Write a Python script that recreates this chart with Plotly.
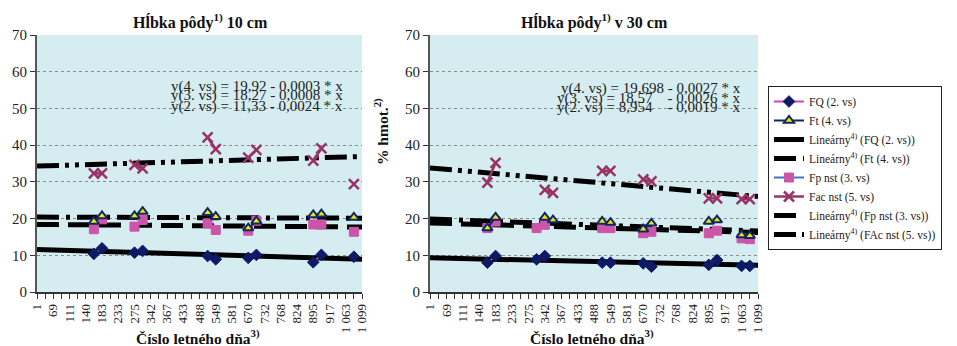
import plotly.graph_objects as go

# ---------------- data ----------------
tick_labels = ["1", "69", "111", "140", "183", "233", "275", "342", "367", "433", "488",
               "549", "581", "670", "732", "768", "824", "895", "917", "1 063", "1 099"]
n_categories = 41  # every second category is labelled

# left panel (10 cm)
left_idx = [7, 8, 12, 13, 21, 22, 26, 27, 34, 35, 39]
left_fq = [10.4, 11.9, 10.7, 11.2, 9.8, 8.9, 9.3, 10.1, 8.1, 10.1, 9.6]
left_ft = [19.2, 20.7, 20.7, 21.9, 21.6, 20.5, 17.4, 19.3, 21.0, 21.2, 20.3]
left_fp = [17.1, 19.8, 17.8, 19.6, 18.7, 16.9, 16.7, 19.4, 18.4, 18.4, 16.4]
left_fac = [32.3, 32.3, 34.6, 33.7, 42.1, 38.9, 36.6, 38.7, 35.8, 39.1, 29.4]

# right panel (30 cm)
right_idx_a = [7, 8, 13, 14, 21, 22, 26, 27, 34, 35, 38, 39]   # FQ, Fp
right_idx_b = [7, 8, 14, 15, 21, 22, 26, 27, 34, 35, 38, 39]   # Ft, Fac
right_fq = [8.0, 9.8, 8.9, 9.8, 8.0, 8.0, 7.8, 6.9, 7.4, 8.7, 7.1, 7.1]
right_fp = [17.4, 19.2, 17.4, 18.3, 17.4, 17.4, 16.0, 16.4, 16.0, 16.7, 14.6, 14.4]
right_ft = [17.4, 20.3, 20.3, 19.6, 19.2, 18.9, 17.1, 18.7, 19.2, 19.6, 15.5, 15.3]
right_fac = [29.8, 35.2, 27.8, 27.0, 33.0, 33.0, 30.7, 30.1, 25.5, 25.5, 25.3, 25.3]

# linear trend lines: value at first and last category
left_trend = {"FQ": (11.6, 8.9), "Ft": (20.4, 20.1), "Fp": (18.4, 17.7), "Fac": (34.3, 36.9)}
right_trend = {"FQ": (9.3, 7.3), "Ft": (19.9, 16.6), "Fp": (18.8, 16.2), "Fac": (33.8, 26.0)}

left_eq = ["y(4. vs) = 19,92 - 0,0003 * x",
           "y(3. vs) = 18,27 - 0,0008 * x",
           "y(2. vs) = 11,33 - 0,0024 * x"]
right_eq = ["y(4. vs) = 19,698 - 0,0027 * x",
            "y(3. vs) = 18,57\u00a0\u00a0\u00a0 - 0,0026 * x",
            "y(2. vs) = 8,954\u00a0\u00a0\u00a0 - 0,0019 * x"]

# ---------------- helpers ----------------
W, H = 957, 346
SERIF = "Liberation Serif, Times New Roman, serif"


def full(idx, vals):
    arr = [None] * n_categories
    for i, v in zip(idx, vals):
        arr[i] = v
    return arr


styles = {
    "FQ": dict(name="FQ (2. vs)", line=dict(color="#cc44bb", width=2),
               marker=dict(symbol="diamond", size=9, color="#0d1a66",
                           line=dict(color="#0d1a66", width=1))),
    "Ft": dict(name="Ft (4. vs)", line=dict(color="#0d2a66", width=2),
               marker=dict(symbol="triangle-up", size=9, color="#f2e600",
                           line=dict(color="#0d2a66", width=2))),
    "Fp": dict(name="Fp nst (3. vs)", line=dict(color="#4472c4", width=2),
               marker=dict(symbol="square", size=9, color="#cc55aa",
                           line=dict(color="#cc55aa", width=1))),
    "Fac": dict(name="Fac nst (5. vs)", line=dict(color="#993366", width=2.5),
                marker=dict(symbol="x-thin-open", size=10, color="#993366",
                            line=dict(color="#993366", width=2.5))),
}
trend_styles = {
    "FQ": dict(name="Lineárny<sup>4)</sup> (FQ (2. vs))", dash="solid"),
    "Ft": dict(name="Lineárny<sup>4)</sup> (Ft (4. vs))", dash="22px,7px,4px,7px"),
    "Fp": dict(name="Lineárny<sup>4)</sup> (Fp nst (3. vs))", dash="22px,9px"),
    "Fac": dict(name="Lineárny<sup>4)</sup> (FAc nst (5. vs))", dash="22px,6px,4px,6px,4px,6px"),
}
legend_rank = {"FQ": 1, "Ft": 2, "tFQ": 3, "tFt": 4, "Fp": 5, "Fac": 6, "tFp": 7, "tFac": 8}

fig = go.Figure()
xs = list(range(n_categories))

panels = [
    ("x", "y", left_trend, {"FQ": (left_idx, left_fq), "Ft": (left_idx, left_ft),
                           "Fp": (left_idx, left_fp), "Fac": (left_idx, left_fac)}, True),
    ("x2", "y2", right_trend, {"FQ": (right_idx_a, right_fq), "Ft": (right_idx_b, right_ft),
                              "Fp": (right_idx_a, right_fp), "Fac": (right_idx_b, right_fac)}, False),
]

for xa, ya, trend, series, show in panels:
    # trend lines first (markers on top)
    for key in ["FQ", "Ft", "Fp", "Fac"]:
        y0, y1 = trend[key]
        ts = trend_styles[key]
        fig.add_trace(go.Scatter(
            x=[0, n_categories - 1], y=[y0, y1], mode="lines", xaxis=xa, yaxis=ya,
            name=ts["name"], line=dict(color="black", width=5, dash=ts["dash"]),
            showlegend=show, legendrank=legend_rank["t" + key], hoverinfo="skip"))
    for key in ["Fac", "Fp", "FQ", "Ft"]:
        idx, vals = series[key]
        st = styles[key]
        fig.add_trace(go.Scatter(
            x=xs, y=full(idx, vals), mode="lines+markers", xaxis=xa, yaxis=ya,
            connectgaps=False, name=st["name"], line=st["line"], marker=st["marker"],
            showlegend=show, legendrank=legend_rank[key]))

# ---------------- layout ----------------
def px_x(p):
    return p / W


def px_y(p):
    return 1 - p / H


ydom = [px_y(292), px_y(35)]
tickvals = list(range(n_categories))
ticktext = [tick_labels[i // 2] if i % 2 == 0 else "" for i in range(n_categories)]

xaxis_common = dict(range=[0, n_categories - 1], tickmode="array", tickvals=tickvals,
                    ticktext=ticktext, tickangle=-90, ticks="outside", ticklen=5,
                    tickcolor="#333333", showline=True, linecolor="#333333", linewidth=1.5,
                    showgrid=False, zeroline=False, automargin=False,
                    tickfont=dict(family=SERIF, size=13, color="#222222"))
yaxis_common = dict(range=[0, 70], dtick=10, ticks="outside", ticklen=5, tickcolor="#333333",
                    showline=True, linecolor="#555555", linewidth=2, automargin=False,
                    showgrid=True, gridcolor="#8c8c8c", griddash="dot", gridwidth=1,
                    zeroline=False, tickfont=dict(family=SERIF, size=15, color="#222222"))

fig.update_layout(
    width=W, height=H, margin=dict(l=0, r=0, t=0, b=0, autoexpand=False),
    paper_bgcolor="white", plot_bgcolor="#d5edf1",
    xaxis=dict(domain=[px_x(37), px_x(362)], anchor="y", **xaxis_common),
    yaxis=dict(domain=ydom, anchor="x", **yaxis_common),
    xaxis2=dict(domain=[px_x(430), px_x(758)], anchor="y2", **xaxis_common),
    yaxis2=dict(domain=ydom, anchor="x2", **yaxis_common),
    legend=dict(x=px_x(768), y=px_y(86), xanchor="left", yanchor="top",
                bordercolor="#222222", borderwidth=1, bgcolor="white",
                font=dict(family=SERIF, size=11.5, color="#222222"),
                tracegroupgap=0, itemwidth=30),
    showlegend=True,
)

annotations = []
title_font = dict(family=SERIF, size=16, color="#111111")
annotations.append(dict(text="<b>Hĺbka pôdy<sup>1)</sup> 10 cm</b>", x=px_x(200), y=px_y(21),
                        xref="paper", yref="paper", xanchor="center", yanchor="middle",
                        showarrow=False, font=title_font))
annotations.append(dict(text="<b>Hĺbka pôdy<sup>1)</sup> v 30 cm</b>", x=px_x(594), y=px_y(21),
                        xref="paper", yref="paper", xanchor="center", yanchor="middle",
                        showarrow=False, font=title_font))
xt_font = dict(family=SERIF, size=15.5, color="#111111")
for cx in (198, 592):
    annotations.append(dict(text="<b>Číslo letného dňa<sup>3)</sup></b>", x=px_x(cx), y=px_y(337),
                            xref="paper", yref="paper", xanchor="center", yanchor="middle",
                            showarrow=False, font=xt_font))
annotations.append(dict(text="<b>% hmot.<sup>2)</sup></b>", x=px_x(381), y=px_y(132),
                        xref="paper", yref="paper", xanchor="center", yanchor="middle",
                        showarrow=False, textangle=-90, font=xt_font))

eq_font = dict(family=SERIF, size=15, color="#222222")
for lines, xr, ys in ((left_eq, 345, (86, 96, 106)), (right_eq, 743, (88, 98, 108))):
    for txt, yy in zip(lines, ys):
        annotations.append(dict(text=txt, x=px_x(xr), y=px_y(yy), xref="paper", yref="paper",
                                xanchor="right", yanchor="middle", showarrow=False, font=eq_font))

fig.update_layout(annotations=annotations)
fig.write_html("out.html", config={"displayModeBar": False},
               post_script="document.body.style.margin='0';")
